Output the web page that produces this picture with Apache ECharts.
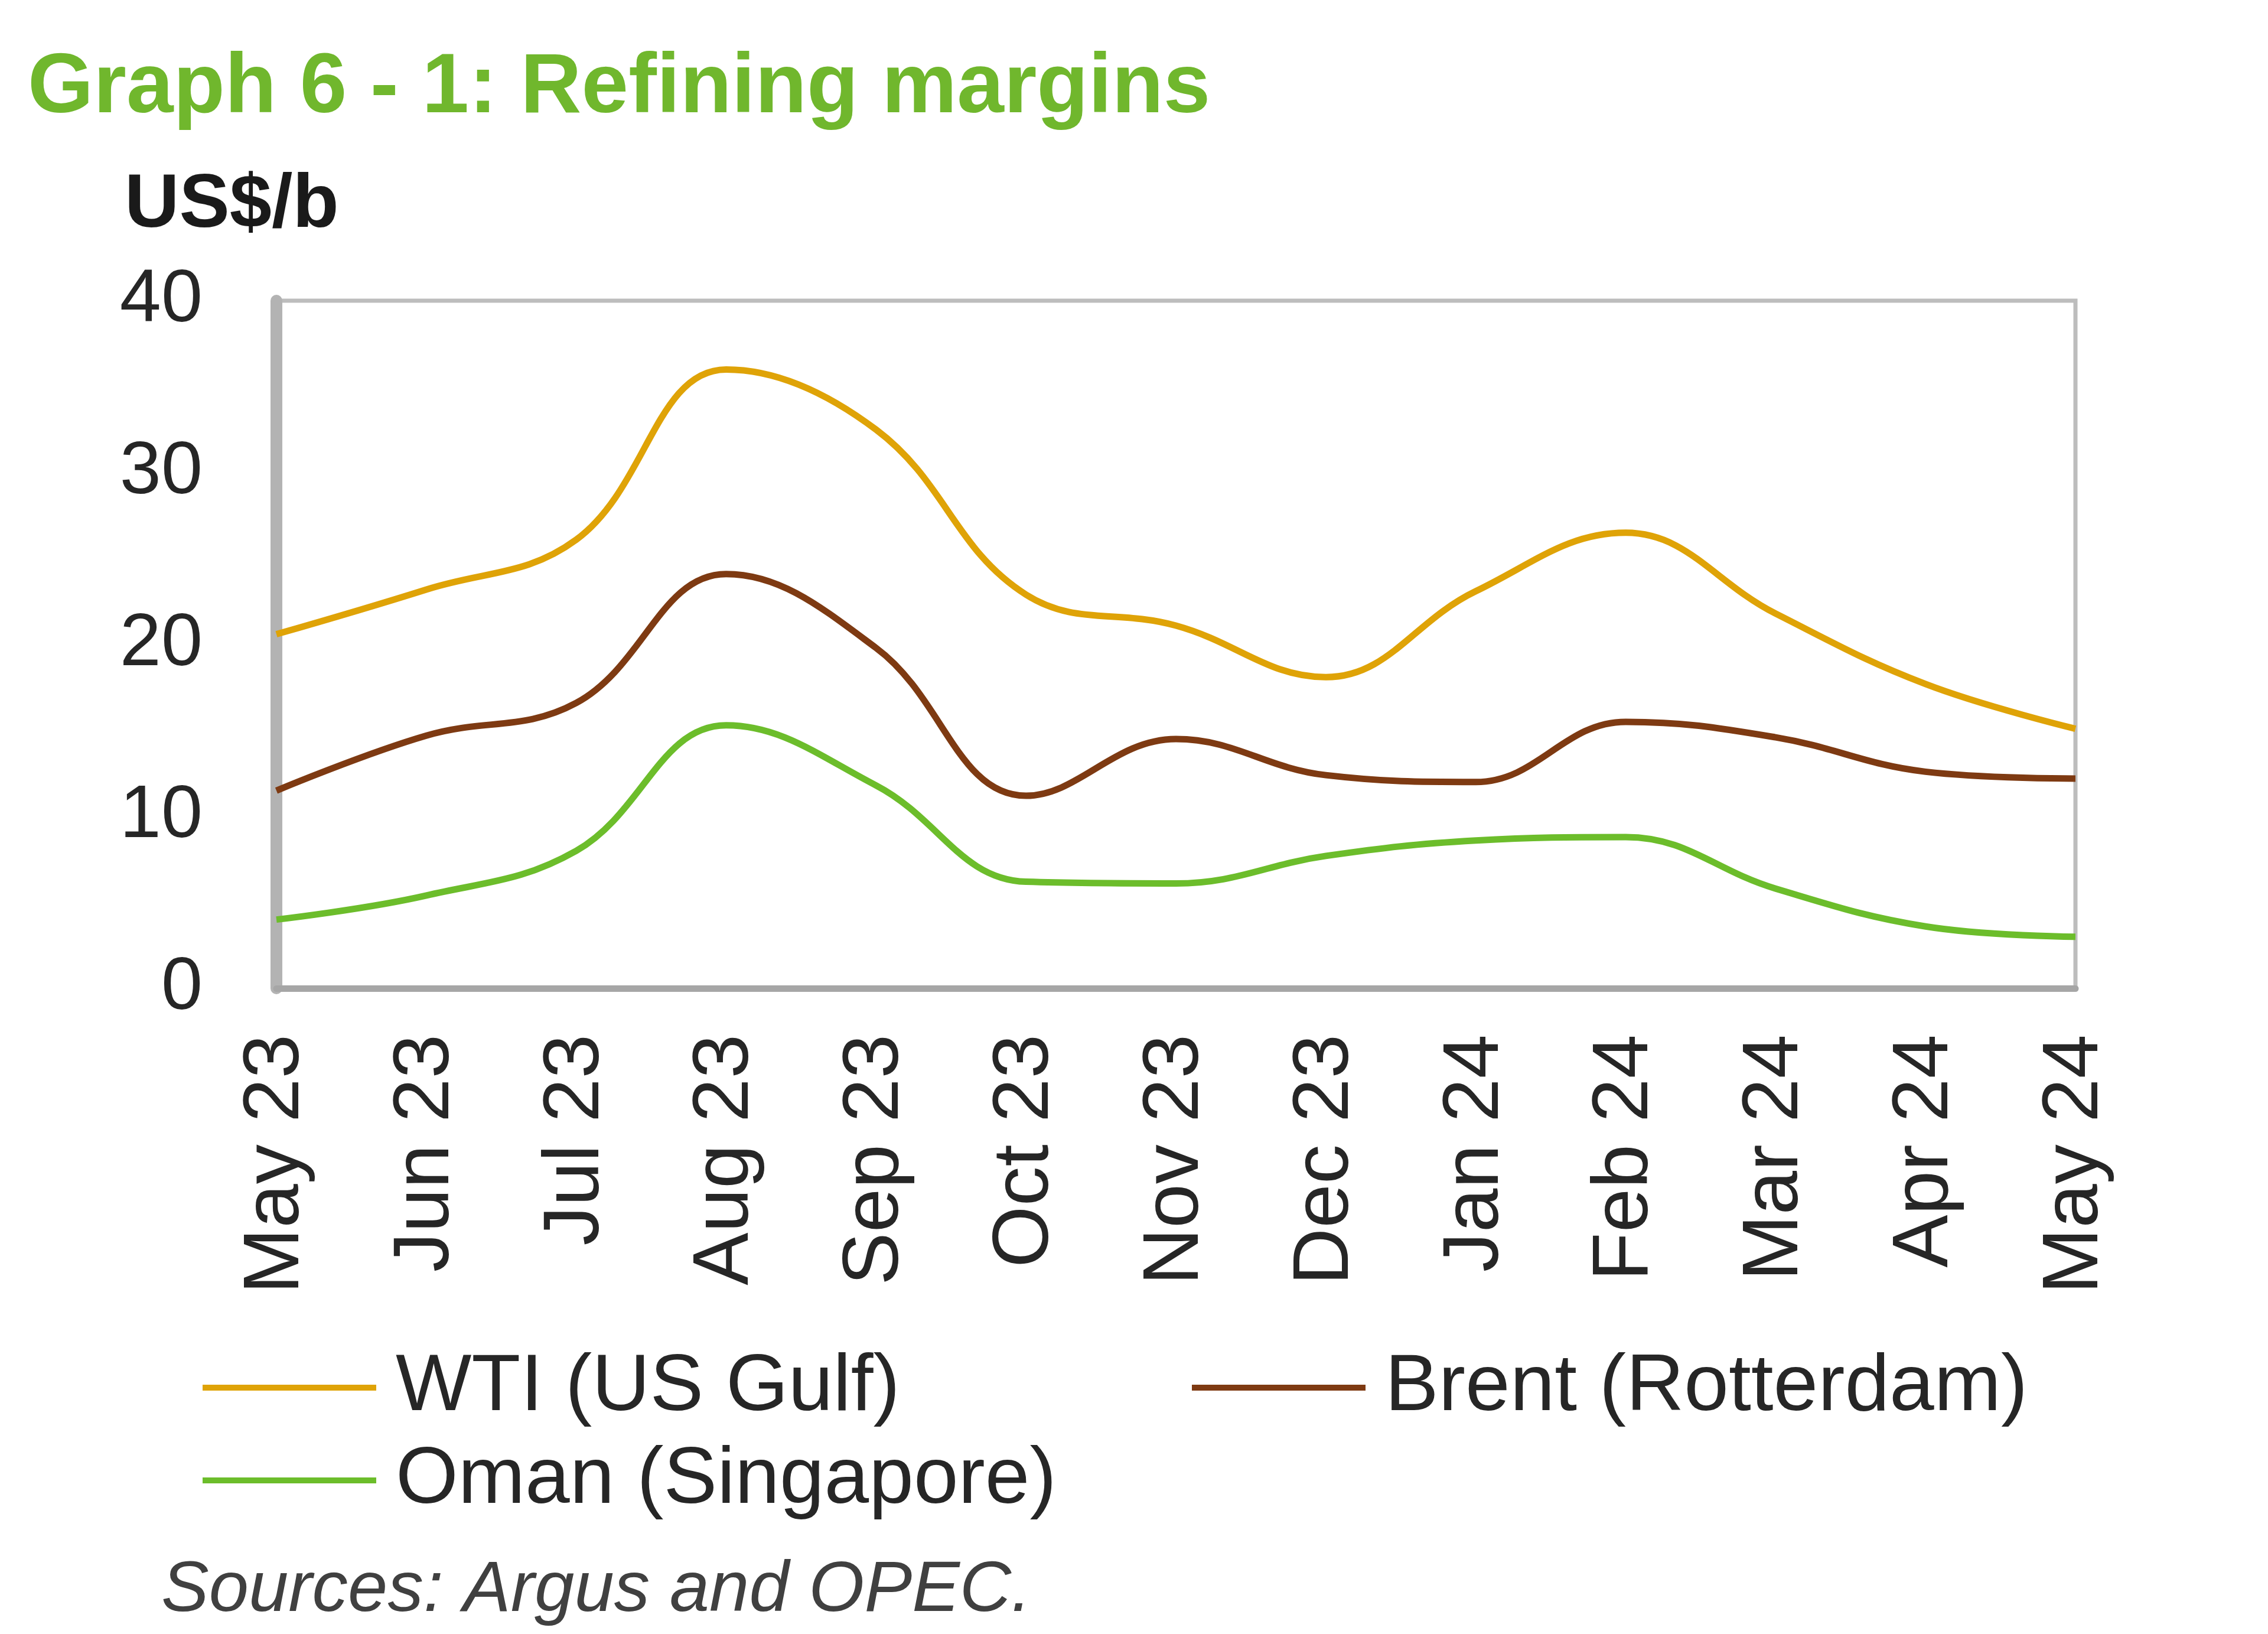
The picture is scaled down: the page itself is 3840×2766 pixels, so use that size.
<!DOCTYPE html>
<html>
<head>
<meta charset="utf-8">
<script src="https://cdn.jsdelivr.net/npm/echarts@6/dist/echarts.min.js"></script>
<style>html,body{margin:0;padding:0;background:#fff;}#c{width:3840px;height:2766px;}</style>
</head>
<body>
<div id="c"></div>
<script>
const categories = ['May 23','Jun 23','Jul 23','Aug 23','Sep 23','Oct 23','Nov 23','Dec 23','Jan 24','Feb 24','Mar 24','Apr 24','May 24'];
const wti   = [20.6, 23.2, 26.1, 36.0, 32.5, 22.9, 21.1, 18.1, 23.1, 26.5, 21.8, 17.7, 15.1];
const brent = [11.5, 14.7, 16.6, 24.1, 19.8, 11.2, 14.5, 12.4, 12.0, 15.5, 14.6, 12.6, 12.2];
const oman  = [4.0, 5.4, 8.0, 15.3, 11.8, 6.2, 6.1, 7.7, 8.6, 8.8, 5.8, 3.6, 3.0];
const yTicks = [0, 10, 20, 30, 40];
const names = ['WTI (US Gulf)', 'Brent (Rotterdam)', 'Oman (Singapore)'];
const colors = ['#DFA307', '#7E3A12', '#6CBD2B'];

const FONT = '"Liberation Sans", Arial, sans-serif';
const chart = echarts.init(document.getElementById('c'), null, {renderer: 'canvas'});

function legendFor(i, left, top) {
  return {
    data: [{name: names[i], icon: 'rect'}],
    left: left, top: top, orient: 'horizontal',
    itemWidth: 294, itemHeight: 10,
    selectedMode: false,
    textStyle: {fontFamily: FONT, fontSize: 136, color: '#262626', padding: [0, 0, 0, 28]}
  };
}

chart.setOption({
  animation: false,
  backgroundColor: '#ffffff',
  title: [
    {text: 'Graph 6 - 1: Refining margins', left: 42, top: 74,
     textStyle: {fontFamily: FONT, fontSize: 143, fontWeight: 'bold', color: '#70B72D'}},
    {text: 'US$/b', left: 206, top: 280,
     textStyle: {fontFamily: FONT, fontSize: 128, fontWeight: 'bold', color: '#1a1a1a'}},
    {text: 'Sources: Argus and OPEC.', left: 268, top: 2628,
     textStyle: {fontFamily: FONT, fontSize: 121, fontStyle: 'italic', fontWeight: 'normal', color: '#404040'}}
  ],
  legend: [
    legendFor(0, 338, 2276),
    legendFor(1, 2013, 2276),
    legendFor(2, 338, 2433)
  ],
  grid: {left: 468, right: 326, top: 509, bottom: 1093, show: true,
         borderColor: '#BDBDBD', borderWidth: 7, containLabel: false},
  xAxis: {
    type: 'category', data: categories, boundaryGap: false,
    axisLine: {show: true, lineStyle: {color: '#A6A6A6', width: 11}},
    axisTick: {show: false},
    splitLine: {show: false},
    axisLabel: {rotate: 90, margin: 78, interval: 0, fontFamily: FONT, fontSize: 134, color: '#262626'}
  },
  yAxis: {
    type: 'value', min: yTicks[0], max: yTicks[yTicks.length - 1], interval: 10,
    axisLine: {show: true, lineStyle: {color: '#B3B3B3', width: 20}},
    axisTick: {show: false},
    splitLine: {show: false},
    axisLabel: {margin: 125, fontFamily: FONT, fontSize: 126, color: '#262626'}
  },
  series: [
    {name: names[0], type: 'line', data: wti, smooth: 0.4, showSymbol: false,
     lineStyle: {color: colors[0], width: 11}, itemStyle: {color: colors[0]}},
    {name: names[1], type: 'line', data: brent, smooth: 0.4, showSymbol: false,
     lineStyle: {color: colors[1], width: 11}, itemStyle: {color: colors[1]}},
    {name: names[2], type: 'line', data: oman, smooth: 0.4, showSymbol: false,
     lineStyle: {color: colors[2], width: 11}, itemStyle: {color: colors[2]}}
  ]
});
</script>
</body>
</html>
